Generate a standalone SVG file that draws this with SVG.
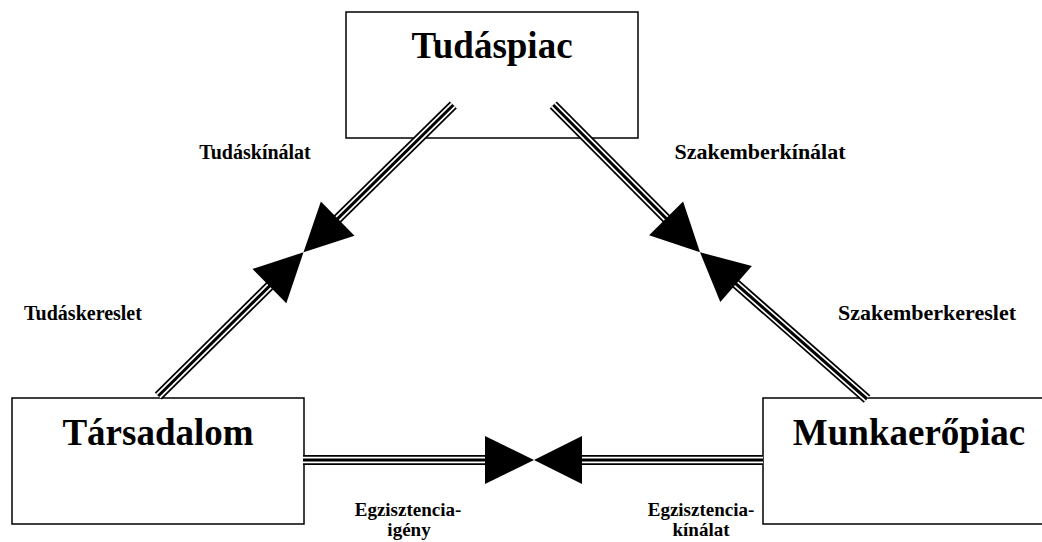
<svg xmlns="http://www.w3.org/2000/svg" xmlns:xlink="http://www.w3.org/1999/xlink" width="1042" height="542" viewBox="0 0 1042 542">
<style>
.box{fill:#fff;stroke:#000;stroke-width:1.5}
.title{font-family:"Liberation Serif","Times New Roman",serif;font-weight:bold;font-size:37px;fill:#000;text-anchor:middle}
.lbl{font-family:"Liberation Serif","Times New Roman",serif;font-weight:bold;font-size:20px;fill:#000;text-anchor:middle}
.lbl2{font-size:19px}
.big{font-size:22px}
.outer{fill:none;stroke:#000;stroke-width:10}
.gap{fill:none;stroke:#fff;stroke-width:6.5}
.core{fill:none;stroke:#000;stroke-width:3}
.head{fill:#000;stroke:none}
</style>
<defs>
<path id="c1" d="M453.3,105 L333.4,222.9"/>
<path id="c2" d="M158.3,396 L273.7,281.9"/>
<path id="c3" d="M553.3,105 L670.3,222.6"/>
<path id="c4" d="M867,399 L731.6,280"/>
<path id="c5" d="M303,460 L491,460"/>
<path id="c6" d="M577,460 L763,460"/>
</defs>
<rect width="1042" height="542" fill="#fff"/>
<g id="node-tudaspiac">
<rect class="box" x="346" y="12" width="292" height="126"/>
<text class="title" x="492" y="58">Tudáspiac</text>
</g>
<g id="node-tarsadalom">
<rect class="box" x="12" y="398" width="292" height="126"/>
<text class="title" x="158" y="445">Társadalom</text>
</g>
<g id="node-munkaeropiac">
<rect class="box" x="763" y="398" width="292" height="126"/>
<text class="title" x="909" y="445">Munkaerőpiac</text>
</g>
<g id="connectors">
<g class="outer"><use xlink:href="#c1"/><use xlink:href="#c2"/><use xlink:href="#c3"/><use xlink:href="#c4"/><use xlink:href="#c5"/><use xlink:href="#c6"/></g>
<g class="gap"><use xlink:href="#c1"/><use xlink:href="#c2"/><use xlink:href="#c3"/><use xlink:href="#c4"/><use xlink:href="#c5"/><use xlink:href="#c6"/></g>
<g class="core"><use xlink:href="#c1"/><use xlink:href="#c2"/><use xlink:href="#c3"/><use xlink:href="#c4"/><use xlink:href="#c5"/><use xlink:href="#c6"/></g>
<polygon class="head" points="303.5,252.3 354.5,235.8 320.9,201.6"/>
<polygon class="head" points="303.5,252.3 286.3,303.2 252.5,269"/>
<polygon class="head" points="700,252.3 649.1,235.2 683.1,201.4"/>
<polygon class="head" points="700,252.3 751.9,266 720.3,302"/>
<polygon class="head" points="485,436 534,460 485,484"/>
<polygon class="head" points="582,436 534,460 582,484"/>
</g>
<g id="labels">
<text class="lbl" x="255" y="159">Tudáskínálat</text>
<text class="lbl big" x="760" y="159">Szakemberkínálat</text>
<text class="lbl" x="83" y="320">Tudáskereslet</text>
<text class="lbl big" x="927" y="320">Szakemberkereslet</text>
<text class="lbl lbl2" x="408" y="516">Egzisztencia-</text>
<text class="lbl lbl2" x="409" y="536">igény</text>
<text class="lbl lbl2" x="701" y="516">Egzisztencia-</text>
<text class="lbl lbl2" x="701" y="536">kínálat</text>
</g>
</svg>
